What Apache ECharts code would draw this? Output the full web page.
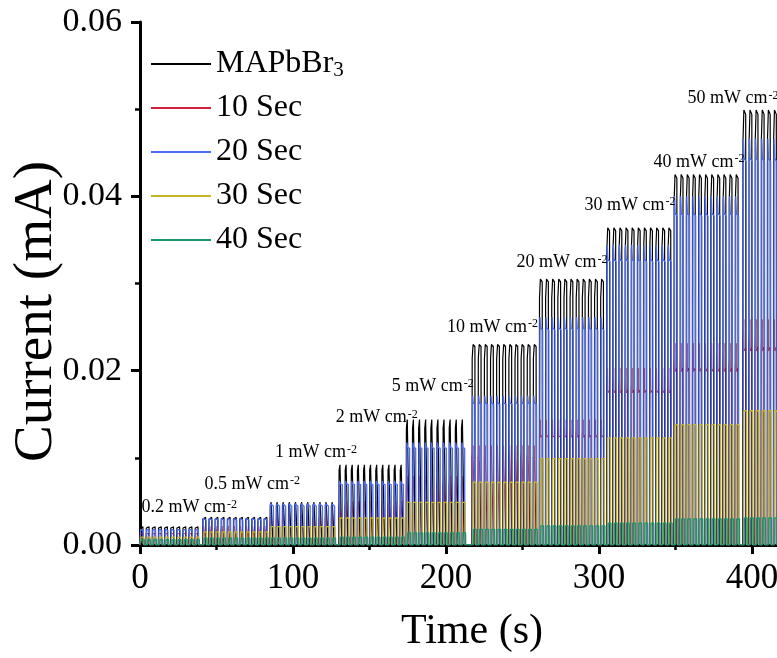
<!DOCTYPE html>
<html>
<head>
<meta charset="utf-8">
<script src="https://cdn.jsdelivr.net/npm/echarts@6/dist/echarts.min.js"></script>
<style>
  html, body { margin: 0; padding: 0; background: #fff; }
  #chart { width: 777px; height: 658px; }
</style>
</head>
<body>
<div id="chart"></div>
<script>
// Light intensity steps (mW cm^-2) and the time (s) each step begins
const intensities = ['0.2', '0.5', '1', '2', '5', '10', '20', '30', '40', '50'];
const levelStart = [0, 41, 85, 130, 174, 217, 261, 305, 349, 394];
const levelEnd = 438;

// Photocurrent plateau (mA) at each intensity step
const pristine = [0.0021, 0.0032, 0.0049, 0.0092, 0.0144, 0.0230, 0.0305, 0.0364, 0.0425, 0.0499];
const sec10    = [0.0013, 0.0019, 0.0031, 0.0044, 0.0069, 0.0100, 0.0126, 0.0178, 0.0203, 0.0227];
const sec20    = [0.0017, 0.0029, 0.0045, 0.0070, 0.0112, 0.0163, 0.0249, 0.0328, 0.0381, 0.0444];
const sec30    = [0.0009, 0.0015, 0.0021, 0.0031, 0.0049, 0.0072, 0.0099, 0.0123, 0.0138, 0.0154];
const sec40    = [0.0006, 0.0008, 0.0008, 0.0009, 0.0014, 0.0018, 0.0022, 0.0025, 0.0030, 0.0031];

// Axis ticks
const xTicks = [0, 100, 200, 300, 400];
const yTicks = [0.00, 0.02, 0.04, 0.06];

// Light chopping: on/off cycle inside each intensity step
const pulsePeriod = 4;
const onTime = 2;
const darkCurrent = 0.00005;

// Shape of a single light-on response: [time offset, fraction of plateau]
const shapes = {
  black: [[0.12, 0.93], [0.7, 1.0], [onTime - 0.1, 0.99]],
  red:   [[0.10, 1.0], [0.55, 1.0], [0.62, 1.14], [0.8, 0.98], [onTime - 0.1, 1.0]],
  blue:  [[0.10, 1.05], [0.5, 1.0], [onTime - 0.1, 0.99]],
  flat:  [[0.10, 1.0], [onTime - 0.1, 1.0]]
};

// Each sample was chopped separately, so its cycles start slightly apart
function buildTrace(levels, shape, phase) {
  const pts = [[0, darkCurrent]];
  for (let i = 0; i < levels.length; i++) {
    const start = levelStart[i] + phase;
    const end = (i + 1 < levelStart.length ? levelStart[i + 1] : levelEnd) + phase;
    const p = levels[i];
    for (let t = start; t + pulsePeriod <= end + 0.01; t += pulsePeriod) {
      pts.push([t, darkCurrent]);
      shape.forEach(s => pts.push([+(t + s[0]).toFixed(3), p * s[1]]));
      pts.push([t + onTime, darkCurrent]);
    }
    pts.push([end, darkCurrent]);
  }
  return pts;
}

// Where each intensity note sits (time, current)
const notePos = [
  [1.0, 0.0043], [42.2, 0.0070], [88.2, 0.0106], [128.0, 0.0146], [164.5, 0.0182],
  [200.7, 0.0250], [246.1, 0.0324], [290.5, 0.0390], [335.6, 0.0439], [357.8, 0.0512]
];

const serif = 'Liberation Serif, Times New Roman, serif';

const noteData = intensities.map((v, i) => ({
  coord: notePos[i],
  value: v,
  label: { formatter: '{a|' + v + ' mW cm}{s|-2}' }
}));

function lineSeries(name, color, data, shape, phase, width, extra) {
  return Object.assign({
    name: name,
    type: 'line',
    data: buildTrace(data, shape, phase),
    showSymbol: false,
    symbol: 'none',
    lineStyle: { color: color, width: width },
    itemStyle: { color: color },
    animation: false,
    silent: true
  }, extra || {});
}

const chart = echarts.init(document.getElementById('chart'), null, { renderer: 'canvas' });

chart.setOption({
  backgroundColor: '#fff',
  animation: false,
  grid: { left: 140, right: -27, top: 22, bottom: 113, containLabel: false, outerBoundsMode: 'none' },
  legend: {
    orient: 'vertical',
    left: 146,
    top: 42,
    icon: 'rect',
    itemWidth: 60,
    itemHeight: 2,
    itemGap: 10,
    textStyle: {
      fontFamily: serif,
      fontSize: 32,
      color: '#000',
      lineHeight: 34,
      padding: [0, 0, 0, 0],
      rich: {
        n: { fontFamily: serif, fontSize: 32, color: '#000', lineHeight: 34 },
        sub: { fontFamily: serif, fontSize: 21, color: '#000', padding: [14, 0, 0, 0], verticalAlign: 'bottom' }
      }
    },
    formatter: function (name) {
      return name === 'MAPbBr3' ? '{n|MAPbBr}{sub|3}' : name;
    },
    data: ['MAPbBr3', '10 Sec', '20 Sec', '30 Sec', '40 Sec']
  },
  xAxis: {
    type: 'value',
    min: 0,
    max: 434,
    interval: 100,
    name: 'Time (s)',
    nameLocation: 'middle',
    nameGap: 66,
    nameMoveOverlap: false,
    nameTextStyle: { fontFamily: serif, fontSize: 42, color: '#000' },
    axisLine: { show: true, onZero: false, lineStyle: { color: '#000', width: 3 } },
    axisTick: { show: true, inside: false, length: 9, lineStyle: { color: '#000', width: 3 } },
    minorTick: { show: true, splitNumber: 2, length: 5, lineStyle: { color: '#000', width: 2.5 } },
    splitLine: { show: false },
    axisLabel: {
      fontFamily: serif, fontSize: 35, color: '#000', margin: 16,
      formatter: function (v) { return xTicks.indexOf(v) >= 0 ? String(v) : ''; }
    }
  },
  yAxis: {
    type: 'value',
    min: 0,
    max: 0.06,
    interval: 0.02,
    name: 'Current (mA)',
    nameLocation: 'middle',
    nameGap: 76,
    nameMoveOverlap: false,
    nameTextStyle: { fontFamily: serif, fontSize: 55, color: '#000', padding: [0, 56, 0, 0] },
    axisLine: { show: true, lineStyle: { color: '#000', width: 3 } },
    axisTick: { show: true, inside: false, length: 9, lineStyle: { color: '#000', width: 3 } },
    minorTick: { show: true, splitNumber: 2, length: 5, lineStyle: { color: '#000', width: 2.5 } },
    splitLine: { show: false },
    axisLabel: {
      fontFamily: serif, fontSize: 34, color: '#000', margin: 18,
      formatter: function (v) {
        const hit = yTicks.find(t => Math.abs(t - v) < 1e-9);
        return hit === undefined ? '' : hit.toFixed(2);
      }
    }
  },
  // The 10 s trace goes first so the bare film's edges sit over its verticals
  series: [
    lineSeries('10 Sec', '#d0203c', sec10, shapes.red, 0, 1.0),
    lineSeries('MAPbBr3', '#000000', pristine, shapes.black, 0, 1.2, {
      markPoint: {
        symbol: 'circle',
        symbolSize: 0,
        silent: true,
        itemStyle: { color: 'transparent' },
        label: {
          show: true,
          position: 'right',
          distance: 0,
          color: '#000',
          rich: {
            a: { fontFamily: serif, fontSize: 18, color: '#000', lineHeight: 18, verticalAlign: 'bottom' },
            s: { fontFamily: serif, fontSize: 12, color: '#000', lineHeight: 12, padding: [0, 0, 14, 1], verticalAlign: 'top' }
          }
        },
        data: noteData
      }
    }),
    lineSeries('20 Sec', '#4d6df5', sec20, shapes.blue, 0.3, 1.3),
    lineSeries('30 Sec', '#c4b428', sec30, shapes.flat, 0.6, 1.3),
    lineSeries('40 Sec', '#17966b', sec40, shapes.flat, 0.9, 1.3)
  ]
});
</script>
</body>
</html>
